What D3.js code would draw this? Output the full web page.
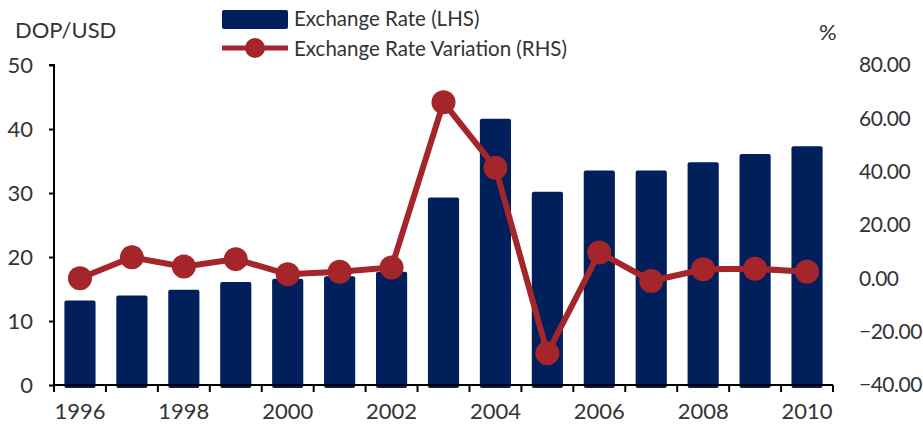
<!DOCTYPE html>
<html>
<head>
<meta charset="utf-8">
<style>
    body{
        margin: 0;
        background: #fff;
    }
    .lbl{
        font-family: Lato, "Open Sans", sans-serif;
        fill: #333;
    }
</style>
</head>
<body>
<script src="https://d3js.org/d3.v7.min.js"></script>
<script>
// data
const years = ["1996","1997","1998","1999","2000","2001","2002","2003","2004","2005","2006","2007","2008","2009","2010"];
const rate = [13.2, 14.0, 14.9, 16.1, 16.6, 17.0, 17.7, 29.3, 41.6, 30.2, 33.5, 33.5, 34.8, 36.1, 37.3];
const variation = [0.0, 7.9, 4.4, 7.2, 1.5, 2.5, 4.1, 66.0, 41.5, -28.1, 9.7, -1.0, 3.4, 3.6, 2.5];
const leftTicks = [0, 10, 20, 30, 40, 50];
const rightTicks = [-40, -20, 0, 20, 40, 60, 80];
const xLabels = ["1996","1998","2000","2002","2004","2006","2008","2010"];

const barColor = "#001f5b", lineColor = "#a4262a";

var margin = {top: 65, right: 90, bottom: 55, left: 54},
    width = 923 - margin.left - margin.right,
    height = 440 - margin.top - margin.bottom;

var svg = d3.select("body").append("svg")
    .attr("width", 923)
    .attr("height", 440);

var g = svg.append("g")
    .attr("transform", "translate(" + margin.left + "," + margin.top + ")");

var x = d3.scaleBand().domain(years).range([0, width]).paddingInner(0.4).paddingOuter(0.2);
var yL = d3.scaleLinear().domain([0, 50]).range([height, 0]);
var yR = d3.scaleLinear().domain([-40, 80]).range([height, 0]);

// bars
g.selectAll("rect.bar")
    .data(years)
    .enter().append("rect")
    .attr("class", "bar")
    .attr("x", d => x(d))
    .attr("width", x.bandwidth())
    .attr("y", (d, i) => yL(rate[i]))
    .attr("height", (d, i) => height - yL(rate[i]) + 3)
    .attr("rx", 2)
    .style("fill", barColor);

// left axis
var la = g.append("g")
    .call(d3.axisLeft(yL).tickValues(leftTicks).tickSize(5).tickFormat(d3.format("d")));
la.select(".domain").attr("stroke", "#000").attr("stroke-width", 2).attr("d", "M-5,0H0V" + height);
la.selectAll(".tick line").attr("stroke", "#000").attr("stroke-width", 2);
la.selectAll("text").attr("class", "lbl").attr("font-size", 22).attr("x", -21).attr("dy", "0.35em");

// bottom axis: ticks between categories
var step = x.step();
var bx = g.append("g").attr("transform", "translate(0," + height + ")");
bx.append("line")
    .attr("x1", 0).attr("x2", width)
    .attr("stroke", "#000").attr("stroke-width", 2);
bx.selectAll("line.tk")
    .data(d3.range(years.length + 1))
    .enter().append("line")
    .attr("class", "tk")
    .attr("x1", i => i * step).attr("x2", i => i * step)
    .attr("y1", 0).attr("y2", 7)
    .attr("stroke", "#000").attr("stroke-width", 2);
bx.selectAll("text")
    .data(xLabels)
    .enter().append("text")
    .attr("class", "lbl")
    .attr("x", d => x(d) + x.bandwidth() / 2)
    .attr("y", 34)
    .attr("text-anchor", "middle")
    .attr("font-size", 22)
    .text(d => d);

// right axis labels only
g.append("g").selectAll("text")
    .data(rightTicks)
    .enter().append("text")
    .attr("class", "lbl")
    .attr("x", width + 26)
    .attr("y", d => yR(d))
    .attr("dy", "0.35em")
    .attr("font-size", 21)
    .attr("letter-spacing", -0.5)
    .text(d => d3.format(".2f")(d));

// line + markers
var line = d3.line()
    .x((d, i) => x(years[i]) + x.bandwidth() / 2)
    .y(d => yR(d));

g.append("path")
    .datum(variation)
    .attr("d", line)
    .attr("fill", "none")
    .attr("stroke", lineColor)
    .attr("stroke-width", 6);

g.selectAll("circle.pt")
    .data(variation)
    .enter().append("circle")
    .attr("class", "pt")
    .attr("cx", (d, i) => x(years[i]) + x.bandwidth() / 2)
    .attr("cy", d => yR(d))
    .attr("r", 12)
    .attr("fill", lineColor);

// axis titles
svg.append("text").attr("class", "lbl")
    .attr("x", 15).attr("y", 38)
    .attr("font-size", 22)
    .text("DOP/USD");
svg.append("text").attr("class", "lbl")
    .attr("x", 819).attr("y", 40)
    .attr("font-size", 22)
    .text("%");

// legend
var lg = svg.append("g");
lg.append("rect")
    .attr("x", 222).attr("y", 10).attr("width", 66).attr("height", 19)
    .attr("rx", 2)
    .attr("fill", barColor);
lg.append("text").attr("class", "lbl")
    .attr("x", 294).attr("y", 26)
    .attr("font-size", 20.5)
    .text("Exchange Rate (LHS)");
lg.append("line")
    .attr("x1", 222).attr("x2", 288).attr("y1", 48).attr("y2", 48)
    .attr("stroke", lineColor).attr("stroke-width", 5);
lg.append("circle")
    .attr("cx", 255).attr("cy", 48).attr("r", 10)
    .attr("fill", lineColor);
lg.append("text").attr("class", "lbl")
    .attr("x", 294).attr("y", 56)
    .attr("font-size", 20.5)
    .text("Exchange Rate Variation (RHS)");
</script>
</body>
</html>
